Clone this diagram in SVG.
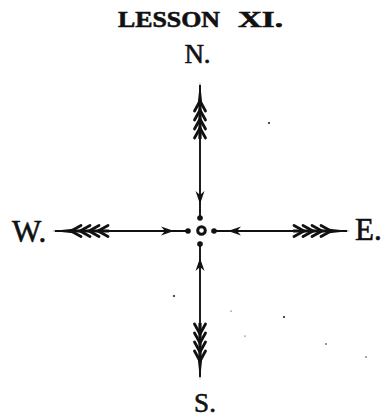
<svg xmlns="http://www.w3.org/2000/svg" width="383" height="418" viewBox="0 0 383 418">
<style>
.lbl{font-family:"Liberation Serif","Times New Roman",serif;fill:#111;stroke:#111;stroke-width:0.6}
.shaft{stroke:#111;stroke-width:1.9;fill:none}
.feather{stroke:#111;stroke-width:2.8;fill:none;stroke-linecap:round}
.ink{fill:#111}
</style>
<defs>
<g id="arrow">
<line class="shaft" x1="-13" y1="0" x2="-146" y2="0"/>
<polygon class="ink" points="-149,0 -128,-2.2 -128,2.2"/>
<path class="feather" d="M-130,0 L-120,-5.5 M-130,0 L-120,5.5 M-121,0 L-111,-5.5 M-121,0 L-111,5.5 M-112,0 L-102,-5.5 M-112,0 L-102,5.5 M-103,0 L-93,-5.5 M-103,0 L-93,5.5"/>
<line x1="-131" y1="0" x2="-92" y2="0" stroke="#111" stroke-width="3.2"/>
<polygon class="ink" points="-27,0 -40,-4.5 -36,0 -40,4.5"/>
<circle class="ink" cx="-13" cy="0" r="2.8"/>
</g>
</defs>
<g id="title"><text class="lbl" x="118" y="27" font-size="23" font-weight="bold" textLength="102" lengthAdjust="spacingAndGlyphs">LESSON</text><text class="lbl" x="238" y="27" font-size="23" font-weight="bold" textLength="45" lengthAdjust="spacingAndGlyphs">XI.</text></g>
<g id="connectors">
<use href="#arrow" transform="translate(201,231)"/>
<use href="#arrow" transform="translate(201,231) rotate(180)"/>
<use href="#arrow" transform="translate(200,231) rotate(90)"/>
<use href="#arrow" transform="translate(200,231) rotate(-90)"/>
</g>
<g id="center"><circle cx="201.5" cy="230.5" r="3.8" fill="#fff" stroke="#111" stroke-width="3"/></g>
<g id="n-label"><text class="lbl" x="197.5" y="63" font-size="27" text-anchor="middle">N.</text></g>
<g id="s-label"><text class="lbl" x="205" y="412" font-size="27" text-anchor="middle">S.</text></g>
<g id="w-label"><text class="lbl" x="12" y="242" font-size="31">W.</text></g>
<g id="e-label"><text class="lbl" x="355" y="240" font-size="31">E.</text></g>
<g id="specks" class="ink">
<circle cx="269" cy="123" r="1"/>
<circle cx="174" cy="296" r="1"/>
<circle cx="231" cy="311" r="0.6"/>
<circle cx="284" cy="317" r="1"/>
<circle cx="245" cy="336" r="0.6"/>
<circle cx="326" cy="344" r="0.8"/>
<circle cx="366" cy="357" r="0.7"/>
</g>
</svg>
